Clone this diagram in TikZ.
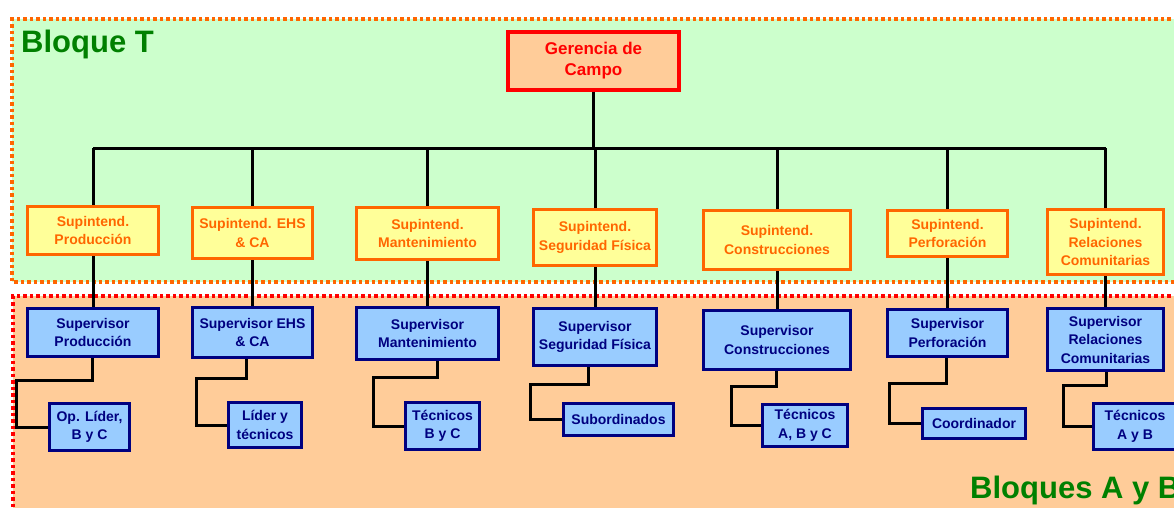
\documentclass[tikz,border=0pt]{standalone}
\usepackage{fontspec}
\setmainfont{Liberation Sans}
\usepackage{xcolor}
\usetikzlibrary{positioning}

\definecolor{bloqueT}{HTML}{CCFFCC}
\definecolor{bloqueAB}{HTML}{FFCC99}
\definecolor{naranja}{HTML}{FF6600}
\definecolor{amarillo}{HTML}{FFFF99}
\definecolor{celeste}{HTML}{99CCFF}
\definecolor{marino}{HTML}{000080}
\definecolor{verde}{HTML}{008000}

\tikzset{
  tam/.style 2 args={minimum width=#1pt, minimum height=#2pt},
  caja/.style={line width=3pt, align=center, inner sep=0pt, font=\bfseries\fontsize{14}{18.5}\selectfont},
  gerente/.style={caja, draw=red, line width=3.5pt, fill=bloqueAB, text=red, font=\bfseries\fontsize{17}{21}\selectfont},
  supint/.style={caja, draw=naranja, fill=amarillo, text=naranja},
  superv/.style={caja, draw=marino, fill=celeste, text=marino},
  linea/.style={line width=3pt},
  zona/.style={line width=3.5pt, dash pattern=on 3.5pt off 3pt},
  titulo/.style={text=verde, font=\bfseries\fontsize{31}{36}\selectfont, inner sep=0pt, anchor=base west}
}

\begin{document}
\begin{tikzpicture}[x=1pt, y=-1pt]
\useasboundingbox (0,0) rectangle (1174,507);

% bloques
\fill[bloqueT] (12,19) rectangle (1190,282);
\draw[zona, naranja] (1190,19) -- (12,19) -- (12,282) -- (1190,282);
\fill[bloqueAB] (13,296) rectangle (1190,520);
\draw[zona, red] (1190,296) -- (13,296) -- (13,520);
\node[titulo] (bt) at (21,52) {Bloque T};
\node[titulo] (bab) at (970,498) {Bloques A y B};

% gerencia y superintendencias
\node[gerente, tam={171}{58}] (ger) at (593.5,61) {Gerencia de\\Campo};
\node[supint, tam={131}{48}] (s1) at (93,230.5) {Supintend.\\Producción};
\node[supint, tam={120}{51}] (s2) at (252.5,233) {Supintend. EHS\\\& CA};
\node[supint, tam={142}{52}] (s3) at (427.5,233.5) {Supintend.\\Mantenimiento};
\node[supint, tam={123}{56}] (s4) at (595,237.5) {Supintend.\\Seguridad Física};
\node[supint, tam={147}{59}] (s5) at (777,240) {Supintend.\\Construcciones};
\node[supint, tam={120}{46}] (s6) at (947.5,233.5) {Supintend.\\Perforación};
\node[supint, tam={116}{65}] (s7) at (1105.5,242) {Supintend.\\Relaciones\\Comunitarias};

% supervisores
\node[superv, tam={131}{48}] (v1) at (93,332.5) {Supervisor\\Producción};
\node[superv, tam={120}{50}] (v2) at (252.5,332.5) {Supervisor EHS\\\& CA};
\node[superv, tam={142}{52}] (v3) at (427.5,333.5) {Supervisor\\Mantenimiento};
\node[superv, tam={123}{57}] (v4) at (595,337) {Supervisor\\Seguridad Física};
\node[superv, tam={147}{59}] (v5) at (777,340) {Supervisor\\Construcciones};
\node[superv, tam={120}{47}] (v6) at (947.5,333) {Supervisor\\Perforación};
\node[superv, tam={116}{62}] (v7) at (1105.5,339.5) {Supervisor\\Relaciones\\Comunitarias};

% personal
\node[superv, tam={80}{47}] (b1) at (89.5,427) {Op. Líder,\\B y C};
\node[superv, tam={73}{45}] (b2) at (265,425) {Líder y\\técnicos};
\node[superv, tam={74}{47}] (b3) at (442.5,426) {Técnicos\\B y C};
\node[superv, tam={110}{32}] (b4) at (618.5,419.5) {Subordinados};
\node[superv, tam={85}{42}] (b5) at (805,425.5) {Técnicos\\A, B y C};
\node[superv, tam={103}{30}] (b6) at (974,423.5) {Coordinador};
\node[superv, tam={83}{46}] (b7) at (1135,426.5) {Técnicos\\A y B};

\coordinate (barra) at (0,148);
\coordinate (k1) at (16,380);
\coordinate (k2) at (196,378);
\coordinate (k3) at (373,377);
\coordinate (k4) at (530,384);
\coordinate (k5) at (731,386);
\coordinate (k6) at (889,383);
\coordinate (k7) at (1063,385);

\draw[linea] (ger) -- (ger |- barra);
\draw[linea] (s1 |- barra) -- (s7 |- barra);
\foreach \n in {1,...,7} {
  \draw[linea] (s\n) -- (s\n |- barra);
  \draw[linea] (s\n) -- (v\n);
}
\foreach \n/\dx in {1/-1,2/-6.5,3/9.5,4/-7,5/-1,6/-1.5,7/0.5}
  \draw[linea] ([xshift=\dx pt]v\n.south) |- (k\n) |- (b\n.west);
\end{tikzpicture}
\end{document}
